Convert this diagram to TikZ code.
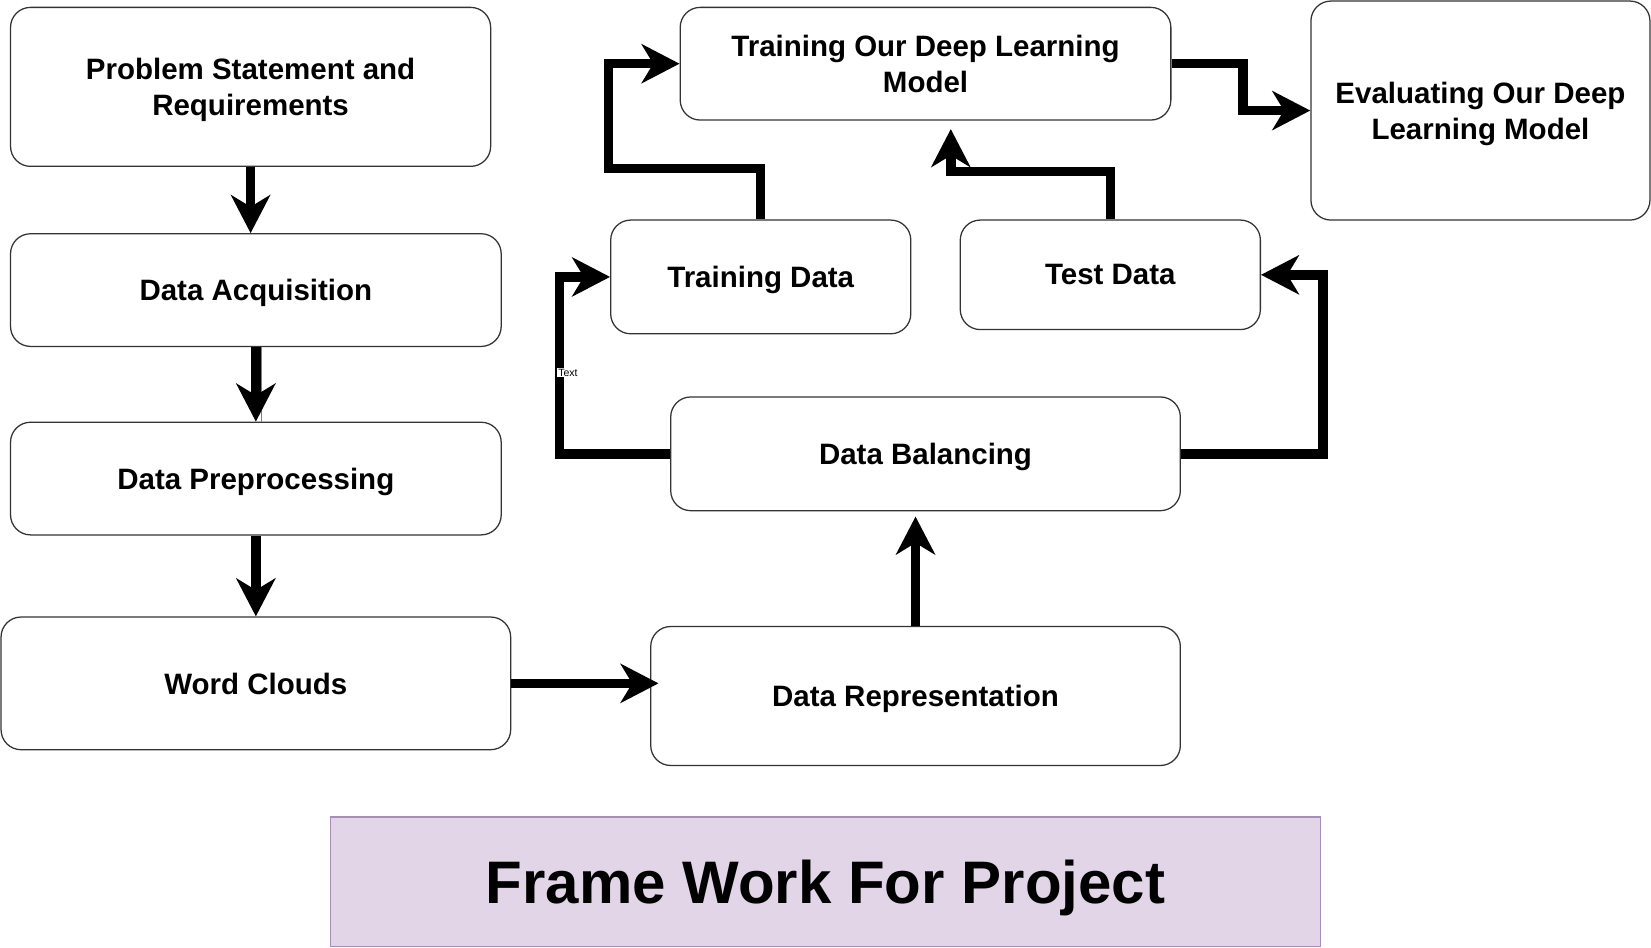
\documentclass[tikz,border=0pt]{standalone}
\usepackage{fontspec}
\setmainfont{Liberation Sans}
\usetikzlibrary{arrows.meta}
\definecolor{boxline}{HTML}{333333}
\definecolor{titlefill}{HTML}{E1D5E7}
\definecolor{titleline}{HTML}{A88FBA}
\begin{document}
\begin{tikzpicture}[x=1pt,y=-1pt,
    block/.style={draw=boxline,line width=1.2pt,rounded corners=19pt,inner sep=0pt,text depth=0pt,align=center,font=\fontsize{28}{34}\selectfont\bfseries},
    flow/.style={line width=9pt,-{Stealth[length=36pt,width=37pt,inset=11pt]}},
    thinline/.style={draw=gray,line width=1pt},
    tag/.style={fill=white,inner sep=1pt,font=\fontsize{10}{12}\selectfont}]
        \useasboundingbox (0,0) rectangle (1568,900);
        \node[block,minimum width=456pt,minimum height=151pt] (ps) at (238,82.5) {Problem Statement and\\Requirements};
        \node[block,minimum width=466pt,minimum height=107pt] (da) at (243,275.5) {Data Acquisition};
        \node[block,minimum width=466pt,minimum height=107pt] (dp) at (243,454.5) {Data Preprocessing};
        \node[block,minimum width=484pt,minimum height=126pt] (wc) at (243,649) {Word Clouds};
        \node[block,minimum width=503pt,minimum height=132pt] (dr) at (869.5,661) {Data Representation};
        \node[block,minimum width=484pt,minimum height=108pt] (db) at (879,431) {Data Balancing};
        \node[block,minimum width=285pt,minimum height=108pt] (trd) at (722.5,263) {Training Data};
        \node[block,minimum width=285pt,minimum height=104pt] (ted) at (1054.5,261) {Test Data};
        \node[block,minimum width=466pt,minimum height=107pt] (trm) at (879,60.5) {Training Our Deep Learning\\Model};
        \node[block,minimum width=322pt,minimum height=208pt] (ev) at (1406,105) {Evaluating Our Deep\\Learning Model};
        \node[draw=titleline,fill=titlefill,line width=1.5pt,minimum width=940pt,minimum height=123pt,inner sep=0pt,text depth=0pt,font=\fontsize{57}{68}\selectfont\bfseries] (title) at (784,837.5) {Frame Work For Project};
        \coordinate (tk) at (903,163);
        \draw[thinline] (da.south -| 248,0) -- (dp.north -| 248,0);
        \draw[flow] (ps.south) -- (ps.south |- da.north);
        \draw[flow] (da.south) -- (dp.north);
        \draw[flow] (dp.south) -- (wc.north);
        \draw[flow] (wc.east) -- ([xshift=8pt]dr.west |- wc.east);
        \draw[flow,shorten >=5pt] (dr.north) -- (dr.north |- db.south);
        \draw[flow] (db.west) -- ++(-105,0) |- (trd.west);
        \draw[flow] (db.east) -- ++(135,0) |- (ted.east);
        \draw[flow] (trd.north) |- (578,160) |- (trm.west);
        \draw[flow,shorten >=8pt] (ted.north) |- (tk) -- (tk |- trm.south);
        \draw[flow] (trm.east) -- ++(68,0) |- (ev.west);
        \node[tag,anchor=west] (lbl) at (529,354) {Text};
    \end{tikzpicture}
\end{document}
